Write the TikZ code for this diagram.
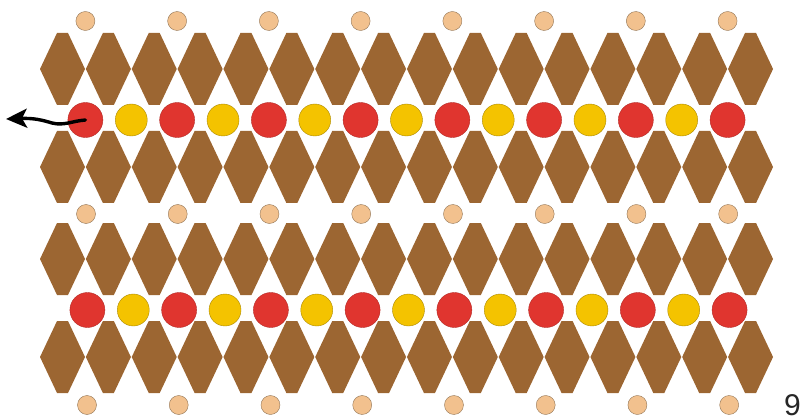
\documentclass[tikz,border=0pt]{standalone}
\usepackage{fontspec}
\setsansfont{Liberation Sans}
\usetikzlibrary{arrows.meta}
\definecolor{beadbrown}{HTML}{9C6632}
\definecolor{beadred}{HTML}{E0352F}
\definecolor{beadyellow}{HTML}{F4C300}
\definecolor{beadpeach}{HTML}{F2C18E}
\begin{document}
\begin{tikzpicture}[x=1pt,y=-1pt,
  redbead/.style={circle,fill=beadred,draw=beadred!80!black,line width=0.4pt,
    minimum size=35pt,inner sep=0pt},
  yellowbead/.style={circle,fill=beadyellow,draw=beadyellow!70!black,line width=0.4pt,
    minimum size=32pt,inner sep=0pt},
  seedbead/.style={circle,fill=beadpeach,draw=beadpeach!60!black,line width=0.4pt,
    minimum size=19pt,inner sep=0pt}]
  \useasboundingbox (0,0) rectangle (801,417);
  % long brown drops, four rows
  \foreach \y in {69,167,259,357}
    \foreach \i in {0,...,15}
      \fill[beadbrown] (62.5+45.87*\i,\y) +(-5.5,-36) -- +(5.5,-36) -- +(22.5,0)
        -- +(5.5,36) -- +(-5.5,36) -- +(-22.5,0) -- cycle;
  % round beads between the drops
  \foreach \j in {0,...,14} {
    \pgfmathsetmacro\bx{85.4+45.87*\j}
    \ifodd\j
      \node[yellowbead] (a\j) at (\bx,120) {};
      \node[yellowbead] (b\j) at (\bx+2,310) {};
    \else
      \node[redbead] (a\j) at (\bx,120) {};
      \node[redbead] (b\j) at (\bx+2,310) {};
    \fi
  }
  % small seed beads
  \foreach \k in {0,...,7} {
    \node[seedbead] (s\k) at (85.4+91.74*\k,21) {};
    \node[seedbead] (m\k) at (86+91.74*\k,214) {};
    \node[seedbead] (u\k) at (87+91.74*\k,405) {};
  }
  % thread leaving the first bead
  \coordinate (tip) at (6,119);
  \draw[-{Stealth[length=21pt,width=19pt,inset=5pt]},line width=3.4pt,line cap=round]
    (a0.center) .. controls (72,121) and (64,126)
    .. (52,123) .. controls (42,120) and (34,118) .. (tip);
  \node[anchor=north west,inner sep=0pt,text=black!85,font=\sffamily\fontsize{30}{30}\selectfont]
    (num) at (784,394) {9};
\end{tikzpicture}
\end{document}
